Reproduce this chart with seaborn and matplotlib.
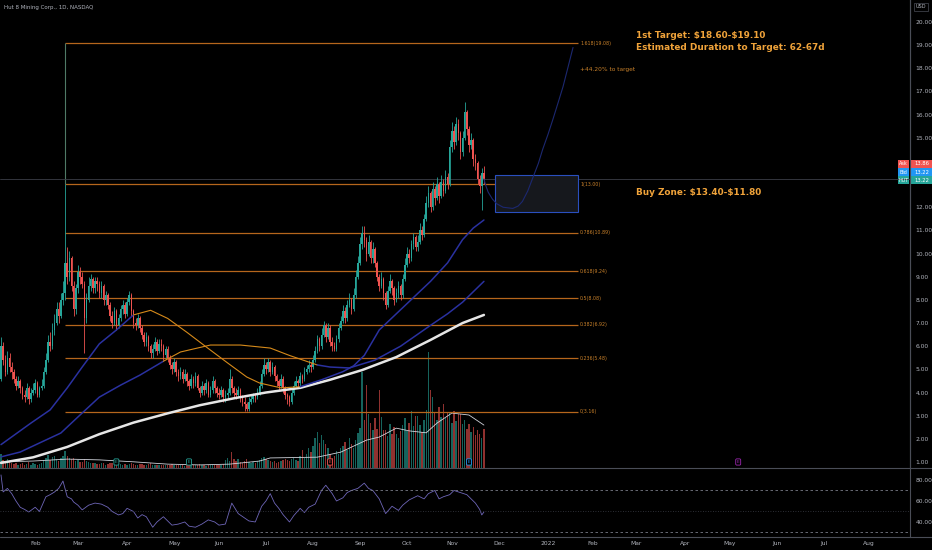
import numpy as np
import pandas as pd
import matplotlib
matplotlib.use("Agg")
import matplotlib.pyplot as plt
from matplotlib.lines import Line2D
from matplotlib.patches import Rectangle
import seaborn as sns

# ---- daily bars, first bar 2021-01-08 ----
first_open = 4.6
close = [6.0, 5.4, 4.9, 5.5, 5.1, 4.9, 4.6, 4.3, 4.5, 4.2,
         3.9, 3.8, 4.2, 3.7, 4.0, 4.1, 4.4, 3.9, 4.2, 4.3,
         4.9, 5.4, 6.2, 6.0, 6.7, 7.0, 7.6, 7.3, 8.0, 8.3,
         9.6, 9.0, 9.8, 8.6, 7.6, 8.5, 9.2, 9.0, 8.7, 7.2,
         8.0, 8.6, 8.9, 8.5, 8.8, 8.7, 8.3, 8.6, 8.0, 8.2,
         7.8, 7.3, 7.0, 7.5, 6.9, 7.2, 7.6, 7.8, 7.4, 7.9,
         8.2, 7.5, 7.0, 6.9, 7.2, 6.8, 6.5, 6.2, 6.4, 6.0,
         5.7, 5.9, 6.2, 5.8, 6.1, 6.0, 5.6, 5.9, 5.5, 5.2,
         5.0, 5.3, 4.9, 4.7, 4.9, 4.6, 4.8, 4.5, 4.3, 4.6,
         4.4, 4.7, 4.2, 4.0, 4.3, 4.1, 4.4, 3.9, 4.1, 4.5,
         4.2, 4.0, 3.9, 4.1, 3.8, 3.9, 4.0, 4.6, 4.2, 4.0,
         3.9, 4.1, 3.8, 3.6, 3.5, 3.3, 3.6, 3.7, 3.9, 3.8,
         4.0, 4.3, 4.8, 5.2, 5.0, 5.3, 4.9, 5.1, 4.7, 4.5,
         4.3, 4.6, 4.2, 3.9, 3.8, 3.6, 4.0, 4.3, 4.5, 4.4,
         4.7, 4.6, 4.9, 5.0, 5.2, 5.1, 5.4, 5.8, 6.3, 6.0,
         6.5, 6.9, 6.4, 6.8, 6.2, 6.0, 5.9, 6.3, 6.8, 7.1,
         7.5, 7.2, 7.8, 8.0, 7.6, 8.2, 9.0, 9.6, 10.4, 10.9,
         10.6, 10.0, 10.5, 9.8, 10.2, 9.6, 9.0, 8.6, 8.9, 8.3,
         7.8, 8.4, 8.8, 8.5, 8.0, 8.3, 8.6, 8.2, 8.9, 9.5,
         10.0, 9.8, 10.4, 10.7, 10.3, 10.5, 11.0, 10.8, 11.5, 12.2,
         12.6, 12.0, 12.8, 12.4, 13.0, 12.5, 13.1, 12.7, 13.3, 13.0,
         14.6, 15.3, 14.8, 15.6, 15.2, 14.4, 15.0, 16.1, 15.4, 14.7,
         14.9, 14.1, 13.9, 13.2, 12.9, 13.5, 13.22]
high = [6.4, 6.2, 5.6, 5.8, 5.7, 5.3, 5.0, 4.7, 4.7, 4.6,
        4.3, 4.1, 4.4, 4.3, 4.2, 4.4, 4.6, 4.5, 4.3, 4.6,
        5.1, 5.7, 6.5, 6.6, 7.0, 7.4, 7.9, 7.9, 8.3, 8.8,
        13.0, 10.3, 10.1, 9.9, 8.8, 8.7, 9.5, 9.4, 9.2, 8.8,
        8.3, 9.0, 9.1, 9.0, 9.0, 9.0, 8.8, 8.8, 8.7, 8.4,
        8.3, 7.9, 7.5, 7.7, 7.6, 7.4, 7.8, 8.0, 7.9, 8.1,
        8.4, 8.3, 7.6, 7.2, 7.4, 7.3, 6.9, 6.6, 6.6, 6.5,
        6.1, 6.1, 6.4, 6.3, 6.3, 6.3, 6.1, 6.0, 6.0, 5.6,
        5.3, 5.5, 5.4, 5.0, 5.1, 5.0, 5.0, 4.9, 4.6, 4.8,
        4.7, 4.9, 4.8, 4.3, 4.5, 4.4, 4.6, 4.5, 4.3, 4.7,
        4.6, 4.3, 4.2, 4.3, 4.2, 4.1, 4.2, 5.0, 4.7, 4.3,
        4.2, 4.3, 4.2, 3.9, 3.8, 3.6, 3.8, 3.9, 4.0, 4.0,
        4.2, 4.5, 5.0, 5.5, 5.3, 5.5, 5.4, 5.3, 5.2, 4.8,
        4.6, 4.8, 4.7, 4.3, 4.0, 3.9, 4.2, 4.5, 4.7, 4.6,
        4.9, 4.8, 5.1, 5.2, 5.4, 5.3, 5.6, 6.0, 6.5, 6.4,
        6.8, 7.1, 7.0, 7.0, 6.9, 6.4, 6.2, 6.5, 7.0, 7.3,
        7.8, 7.7, 8.0, 8.3, 8.1, 8.5, 9.3, 9.9, 10.7, 11.2,
        11.2, 10.7, 10.8, 10.6, 10.5, 10.3, 9.7, 9.1, 9.2, 9.0,
        8.4, 8.6, 9.1, 8.9, 8.6, 8.5, 8.8, 8.7, 9.1, 9.8,
        10.3, 10.2, 10.6, 10.9, 10.8, 10.8, 11.3, 11.2, 11.7, 12.5,
        12.9, 12.7, 13.1, 12.9, 13.3, 13.1, 13.4, 13.2, 13.6, 13.5,
        14.9, 15.7, 15.5, 15.9, 15.8, 15.3, 15.3, 16.55, 16.2, 15.5,
        15.2, 15.0, 14.3, 14.0, 13.4, 13.7, 13.8]
low = [4.5, 5.2, 4.7, 4.8, 4.9, 4.6, 4.4, 4.1, 4.2, 4.0,
       3.7, 3.6, 3.7, 3.5, 3.6, 3.9, 4.0, 3.8, 3.8, 4.1,
       4.2, 4.8, 5.3, 5.8, 5.9, 6.5, 6.9, 7.0, 7.2, 7.8,
       8.0, 8.7, 8.8, 8.4, 7.3, 7.4, 8.3, 8.7, 8.5, 5.7,
       7.0, 7.9, 8.4, 8.3, 8.3, 8.4, 8.1, 8.1, 7.8, 7.8,
       7.6, 7.1, 6.8, 6.9, 6.7, 6.8, 7.1, 7.4, 7.2, 7.3,
       7.8, 7.3, 6.8, 6.7, 6.8, 6.6, 6.3, 6.0, 6.0, 5.8,
       5.5, 5.5, 5.8, 5.6, 5.7, 5.8, 5.4, 5.5, 5.3, 5.0,
       4.8, 4.9, 4.7, 4.5, 4.6, 4.4, 4.5, 4.3, 4.1, 4.2,
       4.2, 4.3, 4.1, 3.8, 3.9, 3.9, 4.0, 3.8, 3.8, 4.0,
       4.0, 3.8, 3.7, 3.8, 3.6, 3.6, 3.7, 3.9, 4.0, 3.8,
       3.7, 3.8, 3.6, 3.4, 3.2, 3.2, 3.2, 3.5, 3.6, 3.6,
       3.7, 3.9, 4.2, 4.7, 4.8, 4.9, 4.7, 4.8, 4.5, 4.3,
       4.1, 4.2, 4.0, 3.7, 3.5, 3.4, 3.5, 3.9, 4.2, 4.2,
       4.3, 4.4, 4.5, 4.8, 4.9, 4.9, 5.0, 5.3, 5.7, 5.8,
       5.9, 6.4, 6.2, 6.3, 6.0, 5.8, 5.8, 5.8, 6.2, 6.7,
       7.0, 7.0, 7.1, 7.7, 7.4, 7.5, 8.1, 8.9, 9.5, 10.2,
       10.3, 9.7, 9.9, 9.6, 9.6, 9.4, 8.8, 8.4, 8.5, 8.0,
       7.6, 7.7, 8.3, 8.2, 7.8, 7.9, 8.1, 8.0, 8.1, 8.8,
       9.4, 9.6, 9.7, 10.2, 10.1, 10.1, 10.4, 10.6, 10.7, 11.4,
       12.0, 11.8, 11.9, 12.1, 12.3, 12.2, 12.4, 12.5, 12.6, 12.8,
       12.9, 14.4, 14.5, 14.7, 14.9, 14.1, 14.2, 14.9, 15.1, 14.4,
       14.5, 13.8, 13.6, 13.0, 12.6, 11.9, 13.0]
volume_m = [3.5, 2.0, 1.5, 2.2, 1.8, 1.2, 1.0, 1.4, 0.9, 1.1,
            1.3, 0.8, 1.0, 1.5, 0.9, 1.2, 1.0, 0.8, 1.1, 1.3,
            2.0, 2.6, 3.4, 2.1, 2.8, 3.0, 2.4, 1.9, 2.6, 3.2,
            4.5, 3.0, 2.5, 2.2, 2.6, 1.8, 2.0, 1.6, 1.5, 2.4,
            1.8, 1.5, 1.3, 1.2, 1.4, 1.1, 1.0, 1.2, 1.3, 0.9,
            1.1, 1.4, 1.2, 1.0, 1.3, 0.9, 1.0, 0.8, 1.1, 0.9,
            1.0, 1.2, 1.1, 0.9, 0.8, 1.0, 1.1, 0.9, 0.8, 1.0,
            1.2, 0.9, 0.8, 0.9, 0.7, 0.8, 0.9, 0.7, 0.8, 0.9,
            1.0, 0.8, 0.7, 0.9, 0.8, 0.7, 0.6, 0.8, 0.9, 0.7,
            0.8, 0.7, 0.9, 1.0, 0.8, 0.7, 0.6, 0.8, 0.7, 0.9,
            0.8, 0.7, 0.9, 0.8, 1.0, 2.0, 2.6, 1.8, 4.2, 2.3,
            1.8, 2.2, 1.6, 1.4, 1.8, 2.4, 1.6, 1.2, 1.5, 1.3,
            1.8, 2.0, 2.6, 2.9, 2.2, 2.0, 1.7, 1.5, 1.9, 1.4,
            1.6, 1.8, 2.1, 2.4, 2.0, 1.7, 2.2, 2.6, 2.0, 1.8,
            3.1, 4.7, 2.6, 3.6, 5.2, 4.1, 5.7, 7.8, 9.3, 6.5,
            8.5, 7.2, 6.2, 5.2, 3.6, 2.6, 3.1, 4.4, 3.6, 5.2,
            5.7, 6.7, 4.7, 7.8, 6.2, 5.2, 7.2, 9.1, 10.3, 24.8,
            12.4, 21.5, 14.0, 11.6, 9.8, 12.9, 10.1, 20.2, 13.2, 9.8,
            9.8, 8.3, 11.4, 8.8, 10.6, 8.8, 7.8, 9.6, 11.1, 12.9,
            9.6, 11.6, 14.7, 10.9, 13.4, 13.4, 11.1, 9.3, 12.4, 15.0,
            30.0, 20.2, 18.4, 14.2, 12.4, 15.8, 13.2, 16.5, 12.9, 14.5,
            14.5, 11.6, 14.7, 12.1, 13.9, 14.0, 11.4, 12.4, 10.1, 11.4,
            9.3, 10.6, 8.5, 9.8, 8.8, 7.8, 10.1]

# moving averages (bar index, value)
ma50_bar = [0, 14, 23, 31, 38, 46, 54, 62, 70, 78, 87, 96, 106, 115, 121, 131, 140,
            150, 160, 165, 170, 177, 185, 193, 201, 209, 216, 221, 226]
ma50_val = [1.75, 2.68, 3.25, 4.2, 5.1, 6.1, 6.7, 7.35, 7.55, 7.2, 6.6, 5.97, 5.28, 4.67,
            4.41, 4.2, 4.25, 4.55, 4.9, 5.15, 5.6, 6.7, 7.4, 8.1, 8.8, 9.6, 10.6, 11.1, 11.45]
ma50_orange = (62, 140)
ma100_bar = [0, 9, 18, 28, 37, 46, 56, 65, 76, 84, 98, 112, 126, 135, 148, 154, 163,
             175, 187, 201, 209, 216, 226]
ma100_val = [1.22, 1.43, 1.82, 2.25, 3.03, 3.8, 4.32, 4.75, 5.35, 5.75, 6.05, 6.05, 5.92,
             5.6, 5.19, 5.1, 5.06, 5.4, 6.0, 6.9, 7.4, 7.9, 8.8]
ma100_orange = (76, 148)
ma200_bar = [0, 15, 31, 46, 62, 78, 93, 109, 124, 140, 154, 169, 185, 201, 216, 226]
ma200_val = [0.96, 1.2, 1.65, 2.2, 2.7, 3.1, 3.45, 3.75, 4.0, 4.2, 4.55, 4.97, 5.53,
             6.27, 7.0, 7.35]
vol_ma_bar = [0, 15, 31, 46, 62, 78, 93, 107, 121, 126, 148, 159, 171, 177, 185, 191,
              199, 204, 211, 219, 226]
vol_ma_val = [1.6, 1.8, 2.3, 2.1, 1.6, 1.0, 0.8, 1.0, 1.8, 2.6, 2.8, 4.1, 7.2, 8.0, 10.3,
              9.6, 9.1, 11.6, 14.2, 13.7, 11.1]

rsi_bar = [0, 1, 3, 5, 7, 9, 11, 13, 16, 18, 21, 23, 25, 27, 29, 31, 33, 34, 36, 38, 41, 44,
           47, 50, 52, 55, 57, 59, 62, 64, 66, 68, 71, 73, 76, 78, 80, 83, 86, 88, 91, 94,
           97, 100, 102, 105, 108, 111, 114, 116, 119, 122, 124, 126, 128, 130, 132, 135,
           137, 140, 142, 144, 147, 150, 152, 155, 157, 160, 162, 164, 167, 170, 172, 174,
           177, 180, 183, 186, 188, 191, 195, 198, 200, 203, 205, 207, 210, 212, 215, 218,
           220, 222, 224, 225, 226]
rsi_val = [84.8, 68.6, 72, 67, 60, 54, 52, 49.5, 54, 50, 64, 66, 68.5, 72, 79, 64, 62, 59,
           56, 51.5, 56, 58, 57, 54, 50, 46.7, 48, 53, 50, 43.8, 47, 45, 35, 40, 45, 41, 37,
           38, 40, 36, 35, 38, 42, 40, 37, 38, 58, 48, 43.8, 41, 40, 55, 60, 67, 58, 53, 47,
           40, 46, 53, 49, 54, 57, 70, 75, 67, 60, 63, 68, 70, 72, 77, 72, 70, 62, 48, 55,
           51, 56, 61, 65, 62, 67, 70, 62, 64, 66, 70, 68, 66, 62, 58, 52, 46.7, 49.5]

fib_ratio = [0, 0.236, 0.382, 0.5, 0.618, 0.786, 1, 1.618]
fib_price = [3.16, 5.48, 6.92, 8.08, 9.24, 10.89, 13.00, 19.08]
fib_from, fib_to = "2021-02-19", "2022-01-21"

buy_zone = (11.80, 13.40)
zone_from, zone_to = "2021-11-29", "2022-01-21"
proj_offset = [0, 1, 2, 4, 6, 9, 13.5, 16, 18, 20.5, 23, 25.5, 27.5, 30, 32.3, 35, 37, 39.5, 41.7]
proj_price = [13.22, 12.9, 12.65, 12.35, 12.15, 12.0, 11.95, 12.05, 12.25, 12.7, 13.3, 13.9,
              14.5, 15.15, 15.8, 16.6, 17.2, 18.1, 18.9]

quote_name = ["Ask", "Bid", "HUT"]
quote_value = [13.86, 13.22, 13.22]
event_dates = ["2021-03-25", "2021-05-12", "2021-08-12", "2021-11-11", "2022-05-06"]
event_colors = ["#26a69a", "#26a69a", "#ef5350", "#2196f3", "#9c27b0"]

GREEN, RED = "#26a69a", "#ef5350"
TXT = "#b2b5be"
LINE = "#4a4d57"

sns.set_theme(style="dark", rc={"axes.facecolor": "#000000", "figure.facecolor": "#000000"})
plt.rcParams["font.family"] = ["DejaVu Sans"]

dates = pd.bdate_range("2021-01-08", "2022-08-31")
n = len(close)
idx = np.arange(n)
close = np.array(close)
opens = np.r_[first_open, close[:-1]]
up = close >= opens
cols = np.where(up, GREEN, RED)

fig = plt.figure(figsize=(9.32, 5.5), dpi=100)
ax = fig.add_axes([0, 82 / 550, 910 / 932, 468 / 550])
axv = ax.twinx()
ax.set_zorder(axv.get_zorder() + 1)
ax.patch.set_visible(False)
axr = fig.add_axes([0, 13 / 550, 910 / 932, 69 / 550])

xlim = (-0.47, 425.4)

# volume
axv.bar(idx, volume_m, width=0.65, color=cols, alpha=0.6, linewidth=0)
sns.lineplot(x=vol_ma_bar, y=vol_ma_val, ax=axv, color="#d1d4dc", linewidth=0.6)
axv.set_ylim(0, 121)
axv.set_yticks([])
axv.set_ylabel("")

# fib levels
f0, f1 = dates.get_loc(fib_from), dates.get_loc(fib_to)
ax.hlines(fib_price, f0, f1, color="#b5661c", linewidth=0.9, zorder=1)
ax.vlines(f0, 13.0, fib_price[-1], color="#4f7a66", linewidth=0.8, zorder=1)
for r, p in zip(fib_ratio, fib_price):
    ax.text(f1 + 1, p, f"{r:g}({p:.2f})", fontsize=3.4, color="#c8802a", va="center")
ax.text(f1 + 1, 17.97, "+44.20% to target", fontsize=4.2, color="#c8802a", va="center")

# last price line
ax.axhline(close[-1], color="#3b3e47", linewidth=0.6, zorder=1)

# candles
ax.vlines(idx, low, high, colors=cols, linewidth=0.6, zorder=3)
body = np.where(np.abs(close - opens) < 0.04, 0.04, close - opens)
ax.bar(idx, body, bottom=opens, width=0.7, color=cols, linewidth=0, zorder=3)


def ma_line(bars, vals, orange, color, lw):
    bars = np.array(bars)
    vals = np.array(vals)
    if orange is None:
        sns.lineplot(x=bars, y=vals, ax=ax, color=color, linewidth=lw, zorder=4)
        return
    a, b = orange
    for m, c in [(bars <= a, color), ((bars >= a) & (bars <= b), "#d68a1a"), (bars >= b, color)]:
        sns.lineplot(x=bars[m], y=vals[m], ax=ax, color=c, linewidth=lw if c == color else 0.8, zorder=4)


ma_line(ma200_bar, ma200_val, None, "#e6e6e6", 1.8)
ma_line(ma100_bar, ma100_val, ma100_orange, "#2a31a0", 1.1)
ma_line(ma50_bar, ma50_val, ma50_orange, "#2a31a0", 1.1)

# buy zone + projection
z0, z1 = dates.get_loc(zone_from), dates.get_loc(zone_to)
ax.add_patch(Rectangle((z0, buy_zone[0]), z1 - z0, buy_zone[1] - buy_zone[0],
                       facecolor="#16181d", edgecolor="#2a4fbf", linewidth=0.8, zorder=2))
sns.lineplot(x=np.array(proj_offset) + idx[-1], y=proj_price, ax=ax, color="#1c2870",
             linewidth=0.8, zorder=4)

# event markers
for d, c in zip(event_dates, event_colors):
    ax.text(dates.get_loc(d), 1.0, "E", fontsize=3.2, color=c, ha="center", va="center", zorder=5,
            bbox=dict(boxstyle="round,pad=0.25", fc="#000000", ec=c, lw=0.6))

ax.set_xlim(*xlim)
ax.set_ylim(0.74, 20.95)
ax.set_xticks([])
ax.yaxis.tick_right()
levels = np.arange(1, 21)
ax.set_yticks(levels)
# 13 and 14 sit under the quote boxes
ax.set_yticklabels(["" if v in (13, 14) else f"{v:.2f}" for v in levels])
ax.tick_params(axis="y", length=0, pad=4, labelsize=4.3, labelcolor=TXT)
ax.set_ylabel("")
ax.grid(False)
axv.grid(False)
axv.set_xlim(*xlim)

# RSI pane
sns.lineplot(x=rsi_bar, y=rsi_val, ax=axr, color="#6e66b8", linewidth=0.6)
axr.axhline(70, color="#787b86", linewidth=0.6, dashes=(3, 3))
axr.axhline(30, color="#787b86", linewidth=0.6, dashes=(3, 3))
axr.axhline(50, color="#3b3e47", linewidth=0.6, dashes=(1, 2))
axr.set_xlim(*xlim)
axr.set_ylim(25.7, 91.4)
axr.yaxis.tick_right()
axr.set_yticks([40, 60, 80])
axr.set_yticklabels(["40.00", "60.00", "80.00"])
axr.tick_params(axis="y", length=0, pad=4, labelsize=4.3, labelcolor=TXT)
axr.grid(False)
axr.set_ylabel("")

tick_pos, tick_lab = [], []
for (y, m), g in pd.Series(np.arange(len(dates)), index=dates).groupby([dates.year, dates.month]):
    if (y, m) < (2021, 2) or (y, m) > (2022, 8):
        continue
    tick_pos.append(g.iloc[0])
    tick_lab.append(str(y) if m == 1 else pd.Timestamp(y, m, 1).strftime("%b"))
axr.set_xticks(tick_pos)
axr.set_xticklabels(tick_lab)
axr.tick_params(axis="x", length=0, pad=3, labelsize=4.3, labelcolor=TXT)

for a in (ax, axv, axr):
    for s in ("top", "left", "bottom"):
        a.spines[s].set_visible(False)
    a.spines["right"].set_color(LINE)
    a.spines["right"].set_linewidth(0.8)

for yy in (82 / 550, 13 / 550):
    fig.add_artist(Line2D([0, 1], [yy, yy], transform=fig.transFigure, color=LINE, linewidth=0.8))

# texts
fig.text(4 / 932, 1 - 7 / 550, "Hut 8 Mining Corp., 1D, NASDAQ", fontsize=4, color=TXT, va="center")
fig.text(921 / 932, 1 - 7 / 550, "USD", fontsize=3.6, color=TXT, ha="center", va="center",
         bbox=dict(boxstyle="square,pad=0.3", fc="#000000", ec=LINE, lw=0.5))
orange_txt = "#f0a33a"
fig.text(636 / 932, 1 - 35 / 550, r"1st Target: \$18.60-\$19.10", fontsize=6.4, color=orange_txt,
         fontweight="bold", va="center")
fig.text(636 / 932, 1 - 47 / 550, "Estimated Duration to Target: 62-67d", fontsize=6.4,
         color=orange_txt, fontweight="bold", va="center")
fig.text(636 / 932, 1 - 193 / 550, r"Buy Zone: \$13.40-\$11.80", fontsize=6.4, color=orange_txt,
         fontweight="bold", va="center")

# price labels on axis
for k, (nm, val, c) in enumerate(zip(quote_name, quote_value, ["#f05350", "#2196f3", GREEN])):
    yc = 1 - (164 + 8 * k) / 550
    fig.add_artist(Rectangle((898 / 932, yc - 4 / 550), 11 / 932, 8 / 550, transform=fig.transFigure,
                             facecolor=c, edgecolor="none"))
    fig.add_artist(Rectangle((911 / 932, yc - 4 / 550), 21 / 932, 8 / 550, transform=fig.transFigure,
                             facecolor=c, edgecolor="none"))
    fig.text(903.5 / 932, yc, nm, fontsize=3.5, color="white", ha="center", va="center")
    fig.text(921.5 / 932, yc, f"{val:.2f}", fontsize=3.8, color="white", ha="center", va="center")

fig.savefig("out.png", dpi=100, facecolor="#000000")
